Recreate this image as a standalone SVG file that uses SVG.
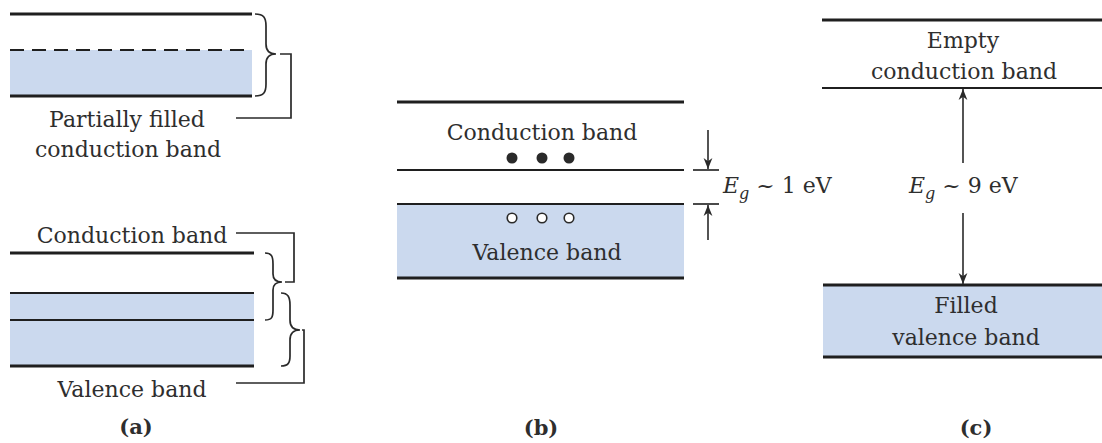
<svg xmlns="http://www.w3.org/2000/svg" width="1102" height="443" viewBox="0 0 1102 443">
<defs>
<style>
.t{font-family:"DejaVu Serif","Liberation Serif",serif;font-size:22px;fill:#2e2e2e}
.lbl{font-family:"DejaVu Serif","Liberation Serif",serif;font-size:21px;font-weight:bold;fill:#2e2e2e;text-anchor:middle}
.c{text-anchor:middle}
.band{fill:#cbd9ee}
.thick{stroke:#1f1f1f;stroke-width:3;fill:none}
.thin{stroke:#1f1f1f;stroke-width:2;fill:none}
.br{stroke:#2a2a2a;stroke-width:1.7;fill:none}
.ar{stroke:#2a2a2a;stroke-width:1.6;fill:none}
</style>
<marker id="ah" viewBox="0 0 10 10" refX="10" refY="5" markerWidth="11" markerHeight="11" markerUnits="userSpaceOnUse" orient="auto">
<path d="M0,1 L10,5 L0,9 L3,5 Z" fill="#2a2a2a"/>
</marker>
</defs>
<rect width="1102" height="443" fill="#ffffff"/>

<g id="panel-a-top">
<rect class="band" x="10" y="50" width="242" height="46"/>
<line class="thick" x1="10" y1="14" x2="252" y2="14"/>
<line class="thin" x1="10" y1="50" x2="252" y2="50" stroke-dasharray="14 8"/>
<line class="thick" x1="10" y1="96" x2="252" y2="96"/>
<text class="t c" x="127" y="127">Partially filled</text>
<text class="t c" x="128" y="157">conduction band</text>
</g>

<g id="panel-a-bottom">
<rect class="band" x="10" y="293" width="244" height="73"/>
<line class="thick" x1="10" y1="253" x2="254" y2="253"/>
<line class="thin" x1="10" y1="293" x2="254" y2="293"/>
<line class="thin" x1="10" y1="320" x2="254" y2="320"/>
<line class="thick" x1="10" y1="366" x2="254" y2="366"/>
<text class="t c" x="132" y="243">Conduction band</text>
<text class="t c" x="132" y="397">Valence band</text>
<text class="lbl" x="136" y="434">(a)</text>
</g>

<g id="panel-b">
<rect class="band" x="397" y="204" width="287" height="74"/>
<line class="thick" x1="397" y1="102" x2="684" y2="102"/>
<line class="thin" x1="397" y1="170" x2="684" y2="170"/>
<line class="thin" x1="397" y1="204" x2="684" y2="204"/>
<line class="thick" x1="397" y1="278" x2="684" y2="278"/>
<text class="t c" x="542" y="140">Conduction band</text>
<circle cx="512" cy="158" r="5.5" fill="#2a2a2a"/>
<circle cx="542" cy="158" r="5.5" fill="#2a2a2a"/>
<circle cx="569" cy="158" r="5.5" fill="#2a2a2a"/>
<circle cx="512" cy="218" r="4.8" fill="#ffffff" stroke="#2a2a2a" stroke-width="1.6"/>
<circle cx="542" cy="218" r="4.8" fill="#ffffff" stroke="#2a2a2a" stroke-width="1.6"/>
<circle cx="569" cy="218" r="4.8" fill="#ffffff" stroke="#2a2a2a" stroke-width="1.6"/>
<text class="t c" x="547" y="260">Valence band</text>
<text class="t" x="723" y="193"><tspan font-style="italic">E</tspan><tspan font-style="italic" font-size="16" dy="6">g</tspan><tspan dy="-6"> ~ 1 eV</tspan></text>
<text class="lbl" x="541" y="435">(b)</text>
</g>

<g id="panel-c">
<rect class="band" x="823" y="285" width="279" height="72"/>
<line class="thick" x1="822" y1="20" x2="1102" y2="20"/>
<line class="thin" x1="822" y1="88" x2="1102" y2="88"/>
<line class="thick" x1="823" y1="285" x2="1102" y2="285"/>
<line class="thick" x1="823" y1="357" x2="1102" y2="357"/>
<text class="t c" x="963" y="48">Empty</text>
<text class="t c" x="964" y="79">conduction band</text>
<text class="t c" x="966" y="313">Filled</text>
<text class="t c" x="966" y="345">valence band</text>
<text class="t" x="909" y="193"><tspan font-style="italic">E</tspan><tspan font-style="italic" font-size="16" dy="6">g</tspan><tspan dy="-6"> ~ 9 eV</tspan></text>
<text class="lbl" x="976" y="435">(c)</text>
</g>

<g id="connectors">
<path class="br" d="M255,14 C264,14 266,18 266,26 L266,44 C266,51 269,54 276,54 C269,54 266,57 266,64 L266,84 C266,92 264,96 255,96"/>
<path class="br" d="M280,54 H291 V118 H236"/>
<path class="br" d="M265,253 C272,253 273,257 273,264 L273,274 C273,280 276,282 282,282 C276,282 273,284 273,290 L273,310 C273,317 272,320 265,320"/>
<path class="br" d="M236,233 H294 V282 H285"/>
<path class="br" d="M281,293 C288,293 290,297 290,305 L290,320 C290,327 293,330 300,330 C293,330 290,333 290,340 L290,356 C290,363 288,366 281,366"/>
<path class="br" d="M302,330 H304 V383 H236"/>
<line class="ar" x1="708" y1="130" x2="708" y2="169" marker-end="url(#ah)"/>
<line class="br" x1="693" y1="170" x2="719" y2="170"/>
<line class="br" x1="693" y1="204" x2="719" y2="204"/>
<line class="ar" x1="708" y1="240" x2="708" y2="205" marker-end="url(#ah)"/>
<line class="ar" x1="963" y1="163" x2="963" y2="89" marker-end="url(#ah)"/>
<line class="ar" x1="963" y1="213" x2="963" y2="284" marker-end="url(#ah)"/>
</g>
</svg>
